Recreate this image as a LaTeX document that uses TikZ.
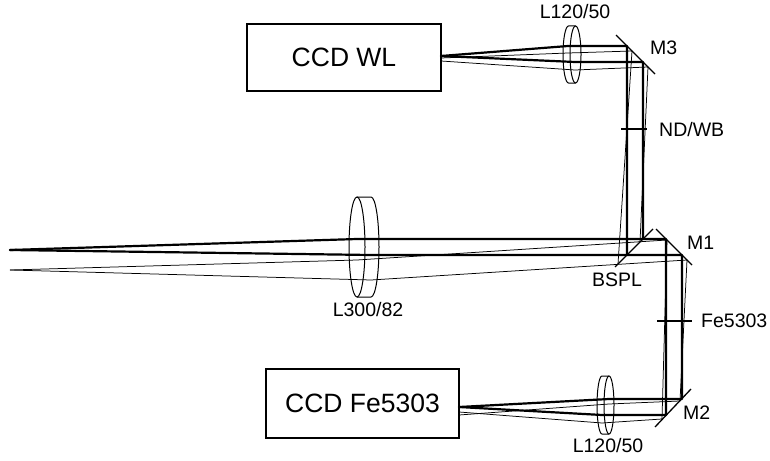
\documentclass[tikz,border=0pt]{standalone}
\usepackage{fontspec}
\setmainfont{Liberation Sans}
\begin{document}
\begin{tikzpicture}[x=1pt,y=-1pt,
  thickbeam/.style={line width=2.2pt, line join=round, line cap=round},
  thinbeam/.style={line width=0.75pt, line join=round},
  mirror/.style={line width=1.3pt},
  lensline/.style={line width=1pt},
  filterbar/.style={line width=2pt},
  ccd/.style={draw, line width=1.8pt, inner sep=0, font=\fontsize{26.5}{30}\selectfont},
  lab/.style={inner sep=0, font=\fontsize{19.5}{22}\selectfont}]
\useasboundingbox (0,0) rectangle (770,460);

% CCD boxes
\node[ccd, minimum width=194pt, minimum height=67pt] (wl) at (344,57.5) {CCD WL};
\node[ccd, minimum width=193pt, minimum height=69pt] (fe) at (362.5,403.5) {CCD Fe5303};

% key coordinates
\coordinate (A) at (10,250);
\coordinate (B) at (10,270);
\coordinate (wlin) at (441,56);
\coordinate (wlin2) at (441,58);
\coordinate (wlin3) at (441,61);
\coordinate (fein) at (459,407);
\coordinate (fein2) at (459,412);
\coordinate (fein3) at (459,415);

% mirrors
\coordinate (m3a) at (616,35);  \coordinate (m3b) at (655,74);
\coordinate (m1a) at (656,229); \coordinate (m1b) at (692,265);
\coordinate (bsa) at (615,267); \coordinate (bsb) at (653,229);
\coordinate (m2a) at (655,427); \coordinate (m2b) at (691,389);
\draw[mirror] (m3a) -- (m3b);
\draw[mirror] (m1a) -- (m1b);
\draw[mirror] (bsa) -- (bsb);
\draw[mirror] (m2a) -- (m2b);

% thick beams
\draw[thickbeam] (A) -- (357,239) -- (666,239) -- (666,415) -- (602,415) -- (fein);
\draw[thickbeam] (A) -- (371,255) -- (682,255) -- (682,399) -- (609,399) -- (fein);
\draw[thickbeam] (643,239) -- (643,62) -- (575,62) -- (wlin);
\draw[thickbeam] (627,255) -- (627,46) -- (568,46) -- (wlin);

% thin beams
\draw[thinbeam] (B) -- (357,260) -- (667,240) -- (662,419) -- (602,423) -- (fein2);
\draw[thinbeam] (B) -- (371,280) -- (687,260) -- (680,401) -- (609,404) -- (fein3);
\draw[thinbeam] (640,242) -- (648,67) -- (575,70) -- (wlin3);
\draw[thinbeam] (618,264) -- (632,51) -- (568,53) -- (wlin2);

% lenses
\draw[lensline, fill=none] (575.5,54.5) ellipse[x radius=5.5, y radius=28.5];
\draw[lensline] (575.5,26) -- (568.5,26) arc[start angle=-90, end angle=-270, x radius=5.5, y radius=28.5] -- (575.5,83);
\draw[lensline] (609,405) ellipse[x radius=5, y radius=29];
\draw[lensline] (609,376) -- (602,376) arc[start angle=-90, end angle=-270, x radius=5, y radius=29] -- (609,434);
\draw[lensline] (357,247) ellipse[x radius=8, y radius=50];
\draw[lensline] (357,197) -- (371,197) arc[start angle=-90, end angle=90, x radius=8, y radius=50] -- (357,297);

% filters
\draw[filterbar] (621,129) -- (647,129);
\draw[filterbar] (657,321) -- (692,321);

% labels
\node[lab] (l1) at (575,12) {L120/50};
\node[lab, anchor=west] (lm3) at (650,48) {M3};
\node[lab, anchor=west] (lnd) at (659,130) {ND/WB};
\node[lab, anchor=west] (lm1) at (687,243) {M1};
\node[lab] (lbs) at (617,280) {BSPL};
\node[lab] (l3) at (368,310) {L300/82};
\node[lab, anchor=west] (lfe) at (701,321) {Fe5303};
\node[lab, anchor=west] (lm2) at (683,413) {M2};
\node[lab] (l2) at (608,446) {L120/50};
\end{tikzpicture}
\end{document}
